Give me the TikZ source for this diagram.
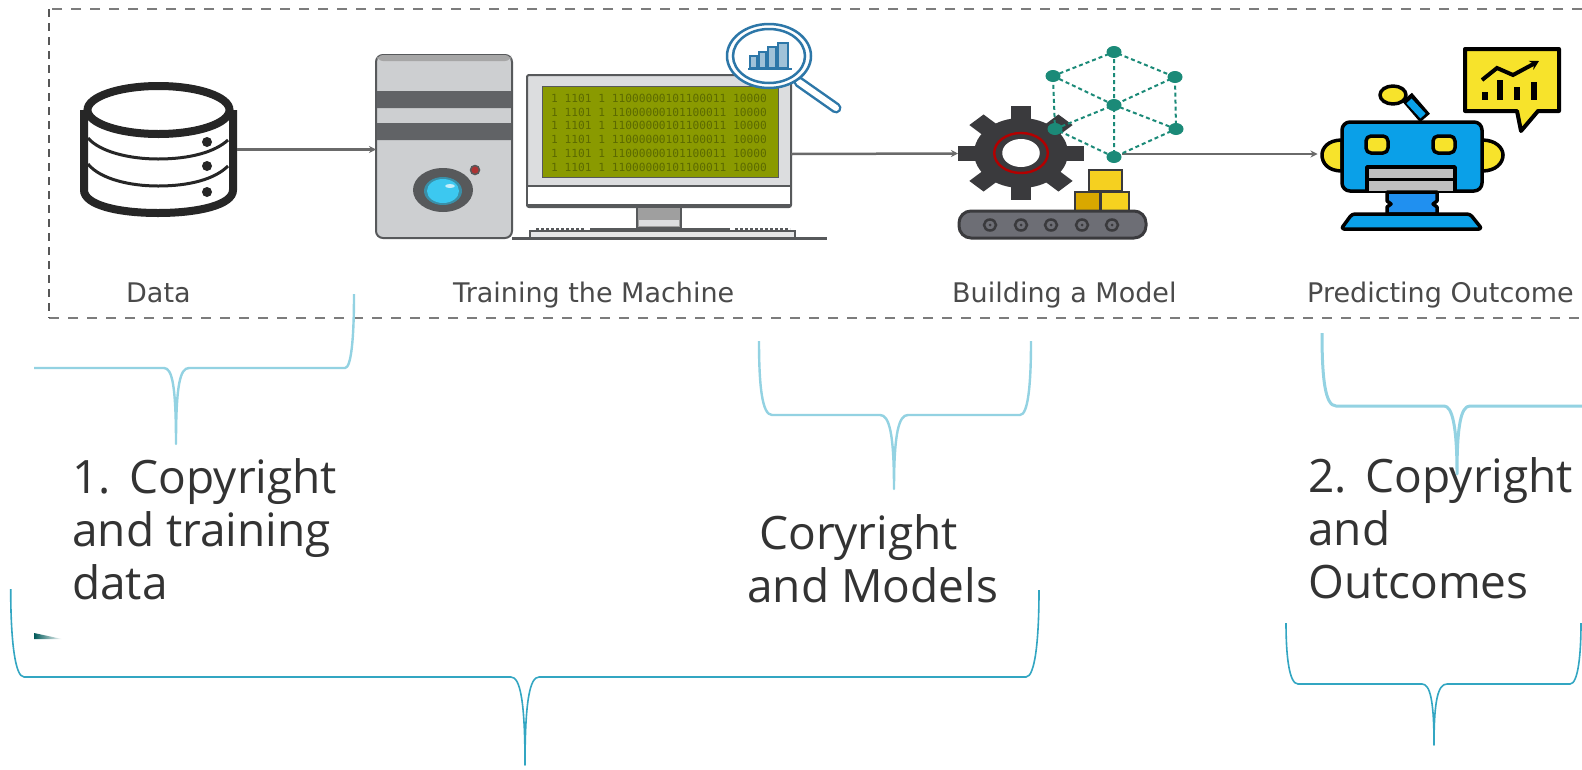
\documentclass[tikz,border=0pt]{standalone}
\usepackage{fontspec}
\setmainfont{DejaVu Sans}
\newfontfamily\bigfont{Open Sans}
\newfontfamily\binfont{DejaVu Sans Mono}
\usetikzlibrary{arrows.meta,calc}
\definecolor{lightbr}{HTML}{93D2E2}
\definecolor{darkbr}{HTML}{33A6C2}
\definecolor{txtgrey}{HTML}{4A4A4A}
\definecolor{bigtxt}{HTML}{333333}
\definecolor{flowln}{HTML}{6A6A6A}
\definecolor{frameln}{HTML}{7C7C7C}
\definecolor{towerc}{HTML}{CDCFD1}
\definecolor{band}{HTML}{616366}
\definecolor{edgec}{HTML}{57595B}
\definecolor{screenc}{HTML}{8A9A00}
\definecolor{binc}{HTML}{5C6A00}
\definecolor{magc}{HTML}{2D77A8}
\definecolor{gearc}{HTML}{3A3A3D}
\definecolor{tealc}{HTML}{1B8A78}
\definecolor{robotc}{HTML}{0AA0E8}
\definecolor{robotd}{HTML}{2090F0}
\definecolor{yellc}{HTML}{F7E32B}
\definecolor{lenscyan}{HTML}{3CC8F0}
\definecolor{lensring}{HTML}{3A8FA8}
\definecolor{conveyc}{HTML}{6D6E75}
\definecolor{boxtop}{HTML}{F5D020}
\definecolor{boxleft}{HTML}{D9A800}
\definecolor{boxright}{HTML}{F6D21F}
\tikzset{
  x=1pt,y=-1pt,
  biglabel/.style={font=\bigfont\fontsize{46}{53}\selectfont,text=bigtxt,align=left,inner sep=0pt,anchor=north west},
  smalllabel/.style={font=\fontsize{27}{28}\selectfont,text=txtgrey,inner sep=0pt,anchor=base west},
  ghost/.style={inner sep=0pt,outer sep=0pt},
  frameline/.style={draw=frameln,line width=2.4pt,dash pattern=on 10pt off 9pt},
  frameside/.style={draw=frameln!70!black,line width=2.4pt,dash pattern=on 8pt off 6pt},
  flow/.style={draw=flowln,line width=2.5pt,-{Stealth[length=7pt,width=7pt]}},
  lightbrace/.style={draw=lightbr,line width=2.4pt,line join=round},
  darkbrace/.style={draw=darkbr,line width=1.6pt,line join=round},
  edgeline/.style={draw=edgec,line width=2pt},
  cubeedge/.style={draw=tealc,line width=2pt,dash pattern=on 4pt off 3pt},
  cubedot/.style={fill=tealc},
  robotline/.style={draw=black,line width=3.5pt,line join=round},
}
\begin{document}
\begin{tikzpicture}
\useasboundingbox (0,0) rectangle (1582,769);
\fill[white] (0,0) rectangle (1582,769);

% dashed frame
\draw[frameline] (1582,9) -- (49,9);
\draw[frameline] (49,318) -- (1582,318);
\draw[frameside] (49,9) -- (49,318);

% invisible named icon nodes (connector anchors)
\node[ghost,minimum width=157pt,minimum height=135pt] (db) at (158.5,149.5) {};
\node[ghost,minimum width=136pt,minimum height=184pt] (tower) at (444,149) {};
\node[ghost,minimum width=264pt,minimum height=158pt] (monitor) at (659,154) {};
\node[ghost,minimum width=126pt,minimum height=94pt] (gear) at (1021,153.5) {};
\node[ghost,minimum width=189pt,minimum height=152pt] (robot) at (1412,154) {};
\coordinate (cubeout) at (1122,154);

% database
\begin{scope}[line width=8pt,draw=black!85]
\draw[black!85,fill=white] (84,110) -- (84,190) .. controls (84,205) and (118,213) .. (158,213) .. controls (198,213) and (233,205) .. (233,190) -- (233,110);
\draw[black!85,line width=3pt] (88,138) .. controls (100,152) and (130,159) .. (158,159) .. controls (190,159) and (215,152) .. (228,140);
\draw[black!85,line width=3pt] (88,164) .. controls (100,179) and (130,186) .. (158,186) .. controls (190,186) and (215,179) .. (228,166);
\draw[black!85,fill=white] (158.5,110) ellipse [x radius=71,y radius=24];
\end{scope}
\fill[black!85] (207,142) circle (5) (207,166) circle (5) (207,192) circle (5);

% tower
\draw[edgeline,fill=towerc,rounded corners=7pt] (376,238) -- (376,55) -- (512,55) -- (512,238) -- cycle;
\fill[gray!70,rounded corners=6pt] (377,55) rectangle (511,61);
\fill[band] (377,91) rectangle (511,108) (377,123) rectangle (511,140);
\fill[edgec] (443,190) ellipse [x radius=30,y radius=22];
\fill[lensring] (443,191) ellipse [x radius=19,y radius=14];
\fill[lenscyan] (443,191) ellipse [x radius=16,y radius=12];
\fill[white!70!lenscyan] (450,186) ellipse [x radius=5,y radius=2];
\draw[edgec,fill=red!60!black!80,line width=1.5pt] (475,170) circle (4.5);

% monitor
\draw[edgeline,fill=towerc!70!white,rounded corners=2pt] (527,75) rectangle (791,207);
\draw[edgeline,fill=white] (527,186) -- (791,186) -- (791,205) -- (527,205) -- cycle;
\fill[screenc] (542,86) rectangle (778,177);
\draw[edgec,line width=1pt] (542,86) rectangle (778,177);
\foreach \yy in {98,112,125,139,153,167}
  \node[ghost,text=binc,font=\binfont\fontsize{11.2}{12}\selectfont] at (659,\yy) {1 1101 1 11000000101100011 10000};
% stand, keyboard, desk line
\draw[edgeline,fill=gray!75] (637,207) rectangle (681,228);
\fill[towerc!70!white] (639,220) rectangle (679,226);
\draw[edgeline,fill=towerc!50!white] (530,238) -- (530,231) -- (795,231) -- (795,238);
\draw[edgec,line width=3pt,dotted] (536,229) -- (584,229) (735,229) -- (790,229);
\draw[edgec,line width=2.5pt] (590,229) -- (730,229);
\draw[edgec,line width=2.5pt] (512,238.5) -- (827,238.5);

% magnifier
\draw[magc,line width=11pt,line cap=round] (799,82) -- (836,108);
\draw[white,line width=6pt,line cap=round] (799,82) -- (836,108);
\draw[magc,fill=white,line width=2.5pt] (769,56) ellipse [x radius=42,y radius=32];
\draw[magc,line width=2.5pt] (769,56) ellipse [x radius=36,y radius=27];
\draw[magc,line width=1.2pt,fill=magc!45!white] (750,68) rectangle (757,56) (759,68) rectangle (766,52) (768,68) rectangle (776,47) (778,68) rectangle (788,43);
\draw[magc,line width=2pt] (748,69) -- (792,69);

% connectors
\draw[flow] (db.east) -- (db.east -| tower.west);
\draw[flow] (monitor.east) -- (gear.west);
\draw[flow] (cubeout) -- (robot.west);

% gear
\begin{scope}[shift={(1021,153)},xscale=1.34]
\foreach \a in {0,45,...,315}
  \fill[gearc,rotate=\a] (-7.5,-47) rectangle (7.5,-28);
\fill[gearc] (0,0) circle (35);
\draw[red!70!black,line width=2.4pt] (0,0) circle (20);
\fill[white] (0,0) circle (14);
\end{scope}

% cube network
\draw[cubeedge] (1053,76) -- (1114,52) -- (1175,77) -- (1176,129) -- (1114,157) -- (1055,129) -- cycle;
\draw[cubeedge] (1114,52) -- (1114,157) (1053,76) -- (1114,105) -- (1175,77) (1055,129) -- (1114,105) -- (1176,129);
\foreach \xx/\yy in {1053/76,1114/52,1175/77,1114/105,1055/129,1114/157,1176/129}
  \fill[cubedot] (\xx,\yy) ellipse [x radius=7.5,y radius=6];

% blocks and conveyor
\draw[gearc,line width=2.5pt,fill=boxtop] (1089,170) rectangle (1122,191);
\draw[gearc,line width=2.5pt,fill=boxleft] (1075,192) rectangle (1100,212);
\draw[gearc,line width=2.5pt,fill=boxright] (1101,192) rectangle (1129,212);
\draw[gearc,line width=3pt,fill=conveyc,rounded corners=12pt] (959,211) rectangle (1146,238);
\foreach \xx in {990,1021,1051,1082,1112} {
  \draw[gearc,line width=2.5pt] (\xx,225) ellipse [x radius=6,y radius=5.5];
  \fill[gearc] (\xx,225) circle (1.5);
}

% robot
\draw[robotline,fill=yellc] (1342,140) .. controls (1328,140) and (1322,148) .. (1322,155) .. controls (1322,163) and (1328,171) .. (1342,171) -- cycle;
\draw[robotline,fill=yellc] (1482,140) .. controls (1496,140) and (1503,148) .. (1503,155) .. controls (1503,163) and (1496,171) .. (1482,171) -- cycle;
\draw[black,line width=13pt] (1407,97) -- (1425,118);
\draw[robotc,line width=7pt] (1409,101) -- (1423,116);
\draw[robotline,fill=yellc] (1393,95) ellipse [x radius=13,y radius=9];
\draw[robotline,fill=robotc,rounded corners=8pt] (1342,122) rectangle (1482,191);
\draw[robotline,fill=yellc,rounded corners=5pt] (1366,136) rectangle (1388,153);
\draw[robotline,fill=yellc,rounded corners=5pt] (1433,136) rectangle (1455,153);
\draw[robotline,fill=gray!50] (1367,191) -- (1367,167) -- (1455,167) -- (1455,191);
\draw[black,line width=3pt] (1367,179) -- (1455,179);
\draw[robotline,fill=robotd] (1387,192) -- (1437,192) -- (1437,201) -- (1433,204) -- (1437,207) -- (1437,214) -- (1387,214) -- (1387,207) -- (1391,204) -- (1387,201) -- cycle;
\draw[robotline,fill=robotc,rounded corners=3pt] (1341,229) -- (1352,214) -- (1470,214) -- (1482,229) -- cycle;

% callout
\draw[black,line width=4pt,line join=round,fill=yellc] (1465,49) -- (1559,49) -- (1559,111) -- (1538,111) -- (1521,131) -- (1517,111) -- (1465,111) -- cycle;
\draw[black,line width=4pt,-{Stealth[length=9pt,width=10pt]}] (1482,80) -- (1497,68) -- (1513,75) -- (1539,61);
\draw[black,line width=6pt] (1485,92) -- (1485,100) (1500,80) -- (1500,100) (1517,87) -- (1517,100) (1534,82) -- (1534,100);

% small labels
\node[smalllabel] (ldata) at (126,302) {Data};
\node[smalllabel] (ltrain) at (453,302) {Training the Machine};
\node[smalllabel] (lbuild) at (952,302) {Building a Model};
\node[smalllabel] (lpred) at (1307,302) {Predicting Outcome};

% big labels
\node[biglabel] (l1) at (72,458) {1.\hspace{19pt}Copyright\\and training\\data};
\node[biglabel] (l2) at (747,514) {\hspace*{12pt}Coryright\\and Models};
\node[biglabel] (l3) at (1308,457) {2.\hspace{19pt}Copyright\\and\\Outcomes};

% braces
\draw[lightbrace] (34,368) -- (164,368) .. controls (172,368) and (176,385) .. (176,444)
  .. controls (176,385) and (180,368) .. (189,368) -- (345,368) .. controls (351,368) and (354,340) .. (354,294);
\draw[lightbrace] (759,341) .. controls (759,385) and (762,415) .. (772,415) -- (880,415)
  .. controls (889,415) and (894,432) .. (894,489) .. controls (894,432) and (899,415) .. (908,415)
  -- (1020,415) .. controls (1028,415) and (1031,385) .. (1031,341);
\draw[lightbrace,line width=3pt] (1322,333) .. controls (1322,378) and (1325,406) .. (1336,406) -- (1444,406)
  .. controls (1452,406) and (1457,425) .. (1457,474) .. controls (1457,425) and (1461,406) .. (1470,406) -- (1582,406);
\draw[darkbrace] (10.7,589) .. controls (10.7,640) and (15,677) .. (24,677) -- (511,677)
  .. controls (520,677) and (525,700) .. (525,765) .. controls (525,700) and (530,677) .. (539,677)
  -- (1026,677) .. controls (1035,677) and (1039,640) .. (1039,590);
\draw[darkbrace] (1286,623) .. controls (1286,655) and (1289,684) .. (1298,684) -- (1422,684)
  .. controls (1430,684) and (1434,700) .. (1434,745) .. controls (1434,700) and (1438,684) .. (1447,684)
  -- (1570,684) .. controls (1578,684) and (1581,655) .. (1581,623);
\shade[left color=black!30!teal,right color=white] (34,633) -- (62,639) -- (34,639) -- cycle;
\end{tikzpicture}
\end{document}
